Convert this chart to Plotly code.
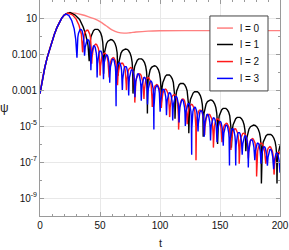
import plotly.graph_objects as go

# ---------------- data (values are log10 of psi) ----------------
# shared initial rise (all four curves overlap here)
t_rise = [0, 2, 4, 6, 8, 10, 12, 14, 16, 18, 20]
log_rise = [-3.2, -2.35, -1.75, -1.2, -0.72, -0.3, 0.1, 0.45, 0.75, 0.98, 1.15]

# l = 0 : smooth decay to a plateau
t_l0 = [22, 25, 30, 35, 40, 45, 50, 55, 60, 65, 70, 75, 80, 90, 100, 120, 150, 200]
log_l0 = [1.24, 1.3, 1.26, 1.18, 1.08, 0.96, 0.8, 0.57, 0.34, 0.2, 0.16, 0.18, 0.22,
          0.27, 0.29, 0.3, 0.3, 0.3]

# l = 1 : peak, then ringing arches between dips
t_head_l1 = [22, 25, 29, 33, 36, 38, 40]
log_head_l1 = [1.24, 1.3, 1.18, 0.92, 0.5, 0.1, -0.5]
t_dips_l1 = [41, 53, 65, 77.5, 89.5, 101, 112.5, 124, 136, 148, 159.5, 171.5, 184.5, 197.5, 209.5]
log_dips_l1 = [-1.4, -2.1, -2.2, -3.2, -4.3, -3.9, -4.6, -5.4, -5.6, -6.0, -6.2, -6.4, -8.2, -8.2, -8.0]
log_tops_l1 = [0.39, -0.2, -0.72, -1.25, -1.65, -2.15, -2.62, -3.08, -3.55, -4.0, -4.5, -4.95,
               -5.45, -5.9]

# l = 2
t_head_l2 = [22, 23.5, 27, 30, 32.5, 34.5]
log_head_l2 = [1.22, 1.27, 1.18, 0.95, 0.6, 0.1]
t_dips_l2 = [35.5, 43, 50, 57.5, 64.5, 72, 79, 86.5, 93.5, 101, 108, 115.5, 122.5, 130, 137,
             144.5, 151.5, 159, 166, 173.5, 180.5, 188, 195, 202.5]
log_dips_l2 = [-0.9, -1.5, -2.2, -2.3, -2.7, -3.0, -3.7, -3.5, -3.9, -4.0, -4.5, -5.2, -4.9,
               -6.9, -5.5, -6.2, -5.9, -6.3, -7.1, -6.8, -7.8, -7.1, -7.7, -7.6]
log_tops_l2 = [0.33, -0.45, -0.95, -1.2, -1.5, -1.75, -2.1, -2.3, -2.7, -2.95, -3.25, -3.5,
               -3.8, -4.1, -4.35, -4.6, -4.85, -5.15, -5.4, -5.7, -5.95, -6.15, -6.45]

# l = 3
t_head_l3 = [21.5, 24, 26.5, 28.5, 29.8]
log_head_l3 = [1.22, 1.15, 0.85, 0.4, -0.2]
t_dips_l3 = [30.8, 37.0, 42.4, 47.6, 52.9, 58.1, 63.4, 68.6, 73.9, 79.1, 84.4, 89.6, 94.9,
             100.1, 105.4, 110.6, 115.9, 121.1, 126.4, 131.6, 136.9, 142.1, 147.4, 152.6,
             157.9, 163.1, 168.4, 173.6, 178.9, 184.1, 189.4, 194.6, 199.9, 205.1]
log_dips_l3 = [-1.2, -1.1, -1.9, -2.3, -2.4, -2.6, -3.9, -3.0, -3.3, -3.4, -3.6, -3.8, -5.2,
               -4.2, -4.4, -4.7, -4.8, -5.0, -6.6, -5.3, -5.6, -5.8, -5.9, -6.1, -7.2, -7.2,
               -6.6, -7.3, -6.9, -7.1, -7.2, -7.4, -7.6, -7.6]
log_tops_l3 = [0.37, -0.2, -0.55, -0.82, -1.05, -1.28, -1.48, -1.68, -1.88, -2.1, -2.3, -2.5,
               -2.75, -2.95, -3.15, -3.35, -3.55, -3.75, -3.95, -4.15, -4.35, -4.55, -4.75,
               -4.95, -5.15, -5.35, -5.55, -5.75, -5.95, -6.15, -6.3, -6.5, -6.7]

names = ["l = 0", "l = 1", "l = 2", "l = 3"]
colors = ["#ff8080", "#000000", "#ff1a1a", "#0000ff"]

y_tickvals = [10, 0.1, 0.001, 1e-5, 1e-7, 1e-9]
y_ticktext = ["10", "0.100", "0.001", "10<sup>-5</sup>", "10<sup>-7</sup>", "10<sup>-9</sup>"]
y_minorvals = [100, 1, 0.01, 1e-4, 1e-6, 1e-8, 1e-10]
x_tickvals = [0, 50, 100, 150, 200]

# drawing profile of one ringing arch (fraction of arch, drop in decades below its top)
ARCH = [(0.02, -1.2), (0.06, -0.73), (0.12, -0.43), (0.2, -0.23), (0.3, -0.09), (0.4, -0.02),
        (0.5, 0.0), (0.6, -0.02), (0.7, -0.09), (0.8, -0.23), (0.88, -0.43), (0.94, -0.73),
        (0.98, -1.2)]


def build(t_head, log_head, t_dips, log_dips, log_tops):
    ts = list(t_rise) + list(t_head)
    ls = list(log_rise) + list(log_head)
    for i, top in enumerate(log_tops):
        t0, t1 = t_dips[i], t_dips[i + 1]
        d0, d1 = log_dips[i], log_dips[i + 1]
        ts.append(t0)
        ls.append(d0)
        for f, drop in ARCH:
            floor = d0 if f < 0.5 else d1
            ts.append(t0 + f * (t1 - t0))
            ls.append(max(top + drop, floor))
    ts.append(t_dips[-1])
    ls.append(log_dips[-1])
    return ts, [10 ** v for v in ls]


series = [
    (list(t_rise) + t_l0, [10 ** v for v in list(log_rise) + log_l0]),
    build(t_head_l1, log_head_l1, t_dips_l1, log_dips_l1, log_tops_l1),
    build(t_head_l2, log_head_l2, t_dips_l2, log_dips_l2, log_tops_l2),
    build(t_head_l3, log_head_l3, t_dips_l3, log_dips_l3, log_tops_l3),
]

fig = go.Figure()
for (xs, ys), name, col in zip(series, names, colors):
    fig.add_trace(go.Scatter(x=xs, y=ys, mode="lines", name=name, showlegend=False,
                             line=dict(color=col, width=1.4,
                                       shape="spline" if name == "l = 0" else "linear")))

FONT = "Liberation Sans, Arial, sans-serif"
axis_common = dict(showline=True, linecolor="#9a9a9a", linewidth=1, mirror="allticks",
                   ticks="inside", ticklen=4, tickcolor="#9a9a9a", showgrid=True,
                   gridcolor="#e8e8e8", gridwidth=1, zeroline=False,
                   tickfont=dict(family=FONT, size=10, color="#111111"))

fig.update_xaxes(range=[0, 200], tickvals=x_tickvals,
                 minor=dict(dtick=10, tick0=0, ticks="inside", ticklen=2, tickcolor="#9a9a9a",
                            showgrid=False),
                 **axis_common)
fig.update_yaxes(type="log", range=[-10, 2], tickvals=y_tickvals, ticktext=y_ticktext,
                 minor=dict(tickvals=y_minorvals, ticks="inside", ticklen=2, tickcolor="#9a9a9a",
                            showgrid=False),
                 **axis_common)

# legend box (frame, line samples, labels)
shapes = [dict(type="rect", xref="paper", yref="paper", x0=0.708, x1=0.95, y0=0.579, y1=0.926,
               line=dict(color="#444444", width=1), fillcolor="white", layer="above")]
annotations = []
leg_y = [0.870, 0.794, 0.715, 0.637]
for name, col, yy in zip(names, colors, leg_y):
    shapes.append(dict(type="line", xref="paper", yref="paper", x0=0.7375, x1=0.804, y0=yy, y1=yy,
                       line=dict(color=col, width=1.5), layer="above"))
    annotations.append(dict(text=name, xref="paper", yref="paper", x=0.826, y=yy, xanchor="left",
                            yanchor="middle", showarrow=False,
                            font=dict(family=FONT, size=10, color="#111111")))

annotations.append(dict(text="ψ", xref="paper", yref="paper", x=-0.146, y=0.5, xanchor="center",
                        yanchor="middle", showarrow=False,
                        font=dict(family=FONT, size=12, color="#222222")))
annotations.append(dict(text="t", xref="paper", yref="paper", x=0.5, y=-0.125, xanchor="center",
                        yanchor="middle", showarrow=False,
                        font=dict(family=FONT, size=11, color="#222222")))

fig.update_layout(width=289, height=250, margin=dict(l=40, r=9, t=0, b=34),
                  paper_bgcolor="white", plot_bgcolor="white", showlegend=False,
                  shapes=shapes, annotations=annotations)

fig.write_html("out.html", config={"displayModeBar": False},
               post_script="document.body.style.margin='0';document.body.style.padding='0';"
                           "document.documentElement.style.overflow='hidden';")
